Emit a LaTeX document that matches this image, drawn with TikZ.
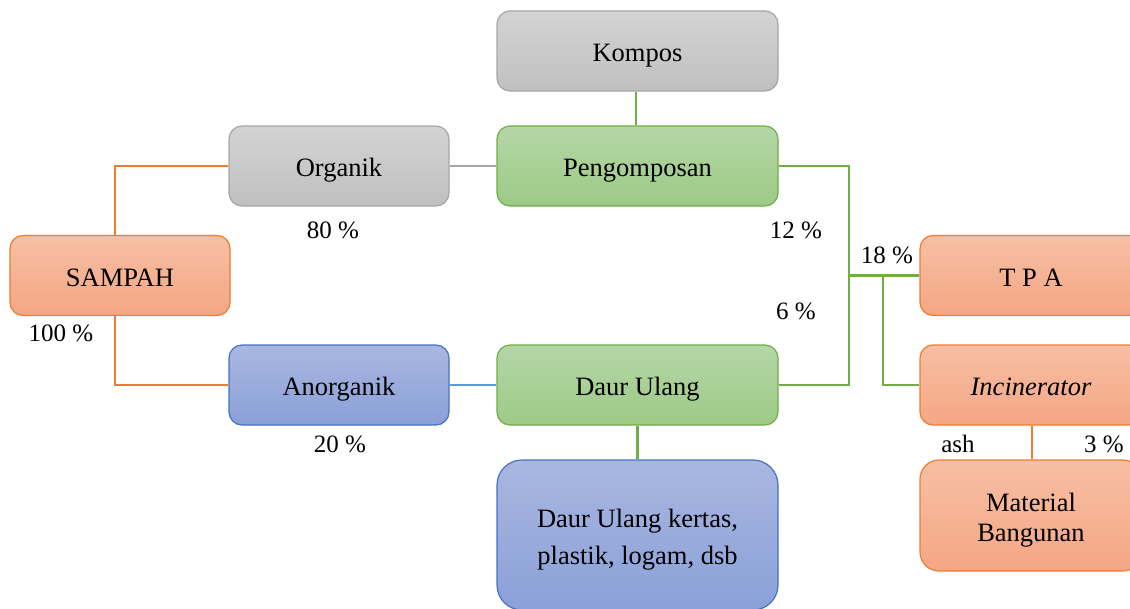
\documentclass[tikz,border=0pt]{standalone}
\usepackage{fontspec}
\setmainfont{Liberation Serif}
\begin{document}
\begin{tikzpicture}[x=1pt,y=-1pt,
  every node/.style={font=\fontsize{26.5}{30}\selectfont, inner sep=0pt},
  box/.style={rounded corners=13pt, line width=1.2pt, align=center,
    minimum width=#1, minimum height=80pt},
  one/.style={text height=24pt, text depth=3pt},
  graybox/.style={box=#1, one, draw=grayB, top color=grayT, bottom color=grayD},
  greenbox/.style={box=#1, one, draw=greenB, top color=greenT, bottom color=greenD},
  orangebox/.style={box=#1, draw=orangeB, top color=orangeT, bottom color=orangeD},
  bluebox/.style={box=#1, draw=blueB, top color=blueT, bottom color=blueD},
  conn/.style={line width=2.2pt},
  lbl/.style={font=\fontsize{25}{28}\selectfont}
]
\definecolor{grayB}{HTML}{A6A6A6}
\definecolor{grayT}{HTML}{D3D3D3}
\definecolor{grayD}{HTML}{C0C0C0}
\definecolor{greenB}{HTML}{70AD47}
\definecolor{greenT}{HTML}{B5D6A6}
\definecolor{greenD}{HTML}{9DCA87}
\definecolor{orangeB}{HTML}{ED7D31}
\definecolor{orangeT}{HTML}{F7BFA4}
\definecolor{orangeD}{HTML}{F4A684}
\definecolor{blueB}{HTML}{4472C4}
\definecolor{blueT}{HTML}{A9B7E0}
\definecolor{blueD}{HTML}{8AA0D8}
\definecolor{blueL}{HTML}{5B9BD5}
\useasboundingbox (0,0) rectangle (1130,608);
\clip (0,0) rectangle (1130,608);

% nodes
\node[graybox=281pt] (kompos) at (637.5,51) {Kompos};
\node[graybox=220pt] (organik) at (339,166) {Organik};
\node[greenbox=281pt] (pengom) at (637.5,166) {Pengomposan};
\node[orangebox=220pt, one] (sampah) at (120,275.5) {SAMPAH};
\node[orangebox=222pt, one] (tpa) at (1031,275.5) {T P A};
\node[bluebox=220pt, one] (anorg) at (339,385) {Anorganik};
\node[greenbox=281pt] (daur) at (637.5,385) {Daur Ulang};
\node[orangebox=222pt, one] (incin) at (1031,385) {\itshape Incinerator};
\node[orangebox=222pt, minimum height=111pt, rounded corners=19pt,
  font=\fontsize{26.5}{30}\selectfont] (material) at (1031,515.5) {\rule{0pt}{28.5pt}Material\\Bangunan};
\node[bluebox=281pt, minimum height=150pt, rounded corners=25pt,
  font=\fontsize{26.5}{37}\selectfont] (kertas) at (637.5,535) {\rule{0pt}{28pt}Daur Ulang kertas,\\plastik, logam, dsb};

% labels
\node[lbl] (l80) at (333,230) {80 \%};
\node[lbl] (l100) at (61,333) {100 \%};
\node[lbl] (l20) at (340,444) {20 \%};
\node[lbl] (l12) at (796,230) {12 \%};
\node[lbl] (l6) at (796,311) {6 \%};
\node[lbl] (l18) at (887,255) {18 \%};
\node[lbl] (lash) at (958,444) {ash};
\node[lbl] (l3) at (1104,444) {3 \%};

% junctions
\coordinate (j1) at (849,275.5);
\coordinate (j2) at (883,275.5);

% connectors
\draw[conn, orangeB] ([xshift=-5pt]sampah.north) |- (organik.west);
\draw[conn, orangeB] ([xshift=-5pt]sampah.south) |- (anorg.west);
\draw[conn, grayB] (organik.east) -- (pengom.west);
\draw[conn, blueL] (anorg.east) -- (daur.west);
\draw[conn, greenB] ([xshift=-1.5pt]kompos.south) -- ([xshift=-1.5pt]pengom.north);
\draw[conn, greenB] (daur.south) -- (kertas.north);
\draw[conn, greenB] (pengom.east) -| (j1) -- (tpa.west);
\draw[conn, greenB] (daur.east) -| (j1);
\draw[conn, greenB] (j2) |- (incin.west);
\draw[conn, orangeB] ([xshift=1pt]incin.south) -- ([xshift=1pt]material.north);
\end{tikzpicture}
\end{document}
